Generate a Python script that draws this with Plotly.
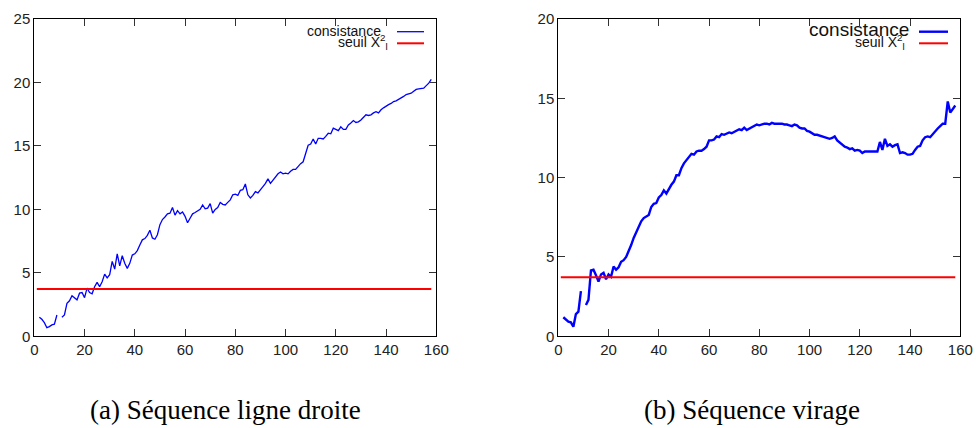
import plotly.graph_objects as go

# ---------------- data ----------------
x_a = list(range(2, 159))
consistance_a = [
    1.50, 1.34, 1.08, 0.68, 0.76, 0.90, 0.95, 1.68, None,            # 2-10
    1.50, 1.68, 2.60, 2.80, 3.20, 3.00, 2.87, 3.40, 3.45, 3.05,      # 11-20
    3.80, 3.45, 3.35, 3.90, 4.25, 3.90, 4.30, 4.90, 4.60, 4.85,      # 21-30
    5.90, 5.30, 6.50, 5.55, 6.35, 5.75, 5.35, 5.75, 6.40, 6.50,      # 31-40
    6.75, 7.20, 7.60, 7.70, 7.95, 8.35, 7.75, 7.65, 8.00, 8.80,      # 41-50
    9.20, 9.40, 9.65, 9.70, 10.15, 9.55, 9.90, 9.65, 9.80, 9.45,     # 51-60
    8.95, 9.30, 9.65, 9.75, 9.90, 10.00, 10.35, 10.05, 10.10, 10.45, # 61-70
    9.70, 10.00, 10.15, 10.55, 10.40, 10.35, 10.55, 10.75, 11.15, 11.20,  # 71-80
    11.10, 11.50, 11.55, 12.00, 11.15, 10.90, 11.10, 11.40, 11.30, 11.60, # 81-90
    11.80, 12.05, 12.40, 12.05, 12.30, 12.60, 12.80, 12.95, 12.80, 12.85, # 91-100
    12.80, 13.00, 13.15, 13.15, 13.40, 13.60, 13.75, 14.40, 15.05, 15.15, # 101-110
    15.55, 15.15, 15.60, 15.60, 15.55, 15.75, 16.00, 15.95, 16.40, 16.30, # 111-120
    16.20, 16.50, 16.30, 16.30, 16.65, 16.80, 17.00, 16.85, 16.90, 17.05, # 121-130
    17.25, 17.45, 17.40, 17.45, 17.60, 17.70, 17.60, 17.85, 18.00, 18.15, # 131-140
    18.25, 18.35, 18.50, 18.55, 18.65, 18.80, 18.90, 19.05, 19.10, 19.15, # 141-150
    19.30, 19.45, 19.50, 19.55, 19.55, 19.75, 19.95, 20.25,               # 151-158
]

x_b = list(range(2, 159))
consistance_b = [
    1.20, 1.07, 0.92, 0.88, 0.60, 1.40, 1.55, 2.85, None,            # 2-10
    1.97, 2.30, 4.15, 4.20, 3.85, 3.45, 3.90, 4.00, 3.60, 3.90,      # 11-20
    3.75, 4.40, 4.20, 4.35, 4.70, 4.80, 5.00, 5.35, 5.75, 6.20,      # 21-30
    6.55, 6.80, 7.25, 7.45, 7.55, 7.65, 8.15, 8.35, 8.40, 8.75,      # 31-40
    8.90, 9.20, 9.00, 9.30, 9.55, 9.75, 10.15, 10.15, 10.60, 10.90,  # 41-50
    11.10, 11.30, 11.50, 11.45, 11.65, 11.70, 11.70, 11.80, 11.95, 12.35,  # 51-60
    12.35, 12.40, 12.60, 12.55, 12.75, 12.70, 12.80, 12.85, 12.80, 12.90,  # 61-70
    12.95, 13.05, 13.00, 13.15, 13.00, 13.10, 13.20, 13.30, 13.35, 13.30,  # 71-80
    13.35, 13.40, 13.40, 13.35, 13.45, 13.40, 13.40, 13.40, 13.40, 13.35,  # 81-90
    13.35, 13.30, 13.25, 13.35, 13.30, 13.15, 13.10, 13.10, 12.95, 12.90,  # 91-100
    12.80, 12.70, 12.70, 12.65, 12.60, 12.55, 12.50, 12.45, 12.50, 12.60,  # 101-110
    12.35, 12.20, 12.10, 11.95, 11.90, 11.80, 11.85, 11.70, 11.75, 11.70,  # 111-120
    11.55, 11.65, 11.65, 11.65, 11.65, 11.65, 11.65, 12.25, 11.75, 12.45,  # 121-130
    12.00, 12.10, 11.95, 12.05, 12.10, 11.55, 11.60, 11.55, 11.45, 11.45,  # 131-140
    11.50, 11.75, 11.95, 12.00, 12.35, 12.55, 12.60, 12.55, 12.75, 12.95,  # 141-150
    13.10, 13.25, 13.40, 13.40, 14.80, 14.10, 14.35, 14.55,                # 151-158
]

x_seuil = [1, 158]
seuil = 3.72

x_ticks = [0, 20, 40, 60, 80, 100, 120, 140, 160]
y_ticks_a = [0, 5, 10, 15, 20, 25]
y_ticks_b = [0, 5, 10, 15, 20]

captions = ["(a) Séquence ligne droite", "(b) Séquence virage"]
legend_labels = ["consistance", "seuil X<sup>2</sup><sub>l</sub>"]

# ---------------- figure ----------------
W, H = 976, 428
BLUE = "#0000ff"
RED = "#ff0000"

fig = go.Figure()
fig.add_trace(go.Scatter(x=x_a, y=consistance_a, mode="lines", connectgaps=False,
                         line=dict(color=BLUE, width=1.3), xaxis="x", yaxis="y",
                         showlegend=False))
fig.add_trace(go.Scatter(x=x_seuil, y=[seuil, seuil], mode="lines",
                         line=dict(color=RED, width=2), xaxis="x", yaxis="y",
                         showlegend=False))
fig.add_trace(go.Scatter(x=x_b, y=consistance_b, mode="lines", connectgaps=False,
                         line=dict(color=BLUE, width=2.4), xaxis="x2", yaxis="y2",
                         showlegend=False))
fig.add_trace(go.Scatter(x=x_seuil, y=[seuil, seuil], mode="lines",
                         line=dict(color=RED, width=2), xaxis="x2", yaxis="y2",
                         showlegend=False))

def px(x):
    return x / W

def py(y):
    return 1 - y / H

tickfont = dict(family="Liberation Sans, Arial, sans-serif", size=15, color="#222")
axis_common = dict(showline=True, linecolor="black", linewidth=1, mirror="ticks",
                   ticks="inside", ticklen=7, tickcolor="#333", tickwidth=1,
                   showgrid=False, zeroline=False, tickfont=tickfont,
                   automargin=False)

fig.update_layout(
    width=W, height=H,
    margin=dict(l=0, r=0, t=0, b=0, autoexpand=False),
    paper_bgcolor="white", plot_bgcolor="white",
    xaxis=dict(domain=[px(34.3), px(436.3)], range=[0, 160], tickvals=x_ticks,
               anchor="y", **axis_common),
    yaxis=dict(domain=[py(336.3), py(19)], range=[0, 25], tickvals=y_ticks_a,
               anchor="x", **axis_common),
    xaxis2=dict(domain=[px(558.3), px(960.3)], range=[0, 160], tickvals=x_ticks,
                anchor="y2", **axis_common),
    yaxis2=dict(domain=[py(336.3), py(19)], range=[0, 20], tickvals=y_ticks_b,
                anchor="x2", **axis_common),
)

ann = []
shapes = []
sans = "Liberation Sans, Arial, sans-serif"
serif = "Liberation Serif, Times New Roman, serif"

# legend (a)
ann.append(dict(x=px(382.5), y=py(30.5), xref="paper", yref="paper", text=legend_labels[0],
                showarrow=False, xanchor="right", yanchor="middle",
                font=dict(family=sans, size=14, color="#111")))
ann.append(dict(x=px(390), y=py(42), xref="paper", yref="paper", text=legend_labels[1],
                showarrow=False, xanchor="right", yanchor="middle",
                font=dict(family=sans, size=14, color="#111")))
shapes.append(dict(type="line", xref="paper", yref="paper", x0=px(397), x1=px(424),
                   y0=py(31.7), y1=py(31.7), line=dict(color=BLUE, width=1.3)))
shapes.append(dict(type="line", xref="paper", yref="paper", x0=px(397), x1=px(424),
                   y0=py(43.3), y1=py(43.3), line=dict(color=RED, width=2)))

# legend (b)
ann.append(dict(x=px(911), y=py(29.5), xref="paper", yref="paper", text=legend_labels[0],
                showarrow=False, xanchor="right", yanchor="middle",
                font=dict(family=sans, size=19, color="#111")))
ann.append(dict(x=px(907), y=py(42), xref="paper", yref="paper", text=legend_labels[1],
                showarrow=False, xanchor="right", yanchor="middle",
                font=dict(family=sans, size=14, color="#111")))
shapes.append(dict(type="line", xref="paper", yref="paper", x0=px(919), x1=px(948),
                   y0=py(31.7), y1=py(31.7), line=dict(color=BLUE, width=2.4)))
shapes.append(dict(type="line", xref="paper", yref="paper", x0=px(919), x1=px(948),
                   y0=py(43.3), y1=py(43.3), line=dict(color=RED, width=2)))

# captions
ann.append(dict(x=px(225), y=py(410), xref="paper", yref="paper", text=captions[0],
                showarrow=False, xanchor="center", yanchor="middle",
                font=dict(family=serif, size=27, color="black")))
ann.append(dict(x=px(751.5), y=py(410), xref="paper", yref="paper", text=captions[1],
                showarrow=False, xanchor="center", yanchor="middle",
                font=dict(family=serif, size=27, color="black")))

fig.update_layout(annotations=ann, shapes=shapes)

fig.write_html("out.html", config={"displayModeBar": False},
               post_script="document.body.style.margin='0';document.body.style.overflow='hidden';")
